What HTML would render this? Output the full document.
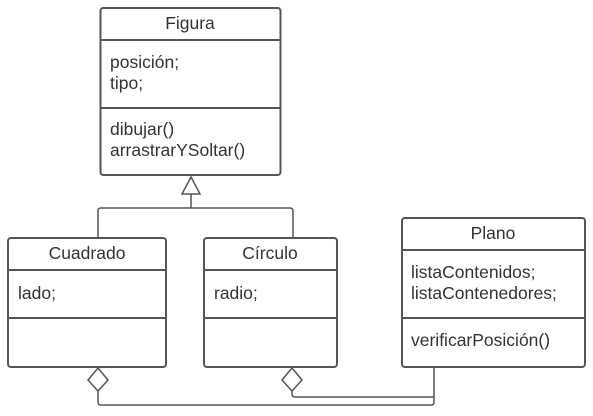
<!DOCTYPE html>
<html><head><meta charset="utf-8"><style>body{margin:0;background:#fff}svg{display:block}</style></head><body>
<svg width="593" height="416" viewBox="0 0 593 416" xmlns="http://www.w3.org/2000/svg" font-family="Liberation Sans, sans-serif" font-size="17.5" fill="#333">
<g fill="none" stroke="#555" stroke-width="2">
<rect x="100.5" y="8" width="180" height="167" rx="3"/>
<line x1="100" y1="40" x2="281" y2="40"/><line x1="100" y1="108" x2="281" y2="108"/>
<rect x="8" y="238" width="158" height="129" rx="3"/>
<line x1="8" y1="270" x2="166" y2="270"/><line x1="8" y1="318" x2="166" y2="318"/>
<rect x="204" y="238" width="133" height="129" rx="3"/>
<line x1="204" y1="270" x2="337" y2="270"/><line x1="204" y1="318" x2="337" y2="318"/>
<rect x="402" y="218" width="183" height="149" rx="3"/>
<line x1="402" y1="250" x2="585" y2="250"/><line x1="402" y1="318" x2="585" y2="318"/>
</g>
<g fill="none" stroke="#555" stroke-width="1.5">
<polygon points="191,177 200,194 182,194" fill="#fff"/>
<path d="M191 194 V208 M98 238 V211 Q98 208 101 208 H290 Q293 208 293 211 V238"/>
<polygon points="98,368 108,380 98,391 88,380" fill="#fff"/>
<polygon points="292,368 302,380 292,391 282,380" fill="#fff"/>
<path d="M98 391 V402 Q98 405 101 405 H431 Q434 405 434 402 V368"/>
<path d="M292 391 V394 Q292 397 295 397 H434"/>
</g>
<text x="190" y="29" text-anchor="middle">Figura</text>
<text x="110" y="68">posición;</text><text x="110" y="89">tipo;</text>
<text x="110" y="135">dibujar()</text><text x="110" y="156">arrastrarYSoltar()</text>
<text x="87" y="259" text-anchor="middle">Cuadrado</text>
<text x="18" y="299">lado;</text>
<text x="270" y="259" text-anchor="middle">Círculo</text>
<text x="214" y="299">radio;</text>
<text x="493" y="239" text-anchor="middle">Plano</text>
<text x="411" y="278">listaContenidos;</text><text x="411" y="299">listaContenedores;</text>
<text x="411" y="346">verificarPosición()</text>
</svg>
</body></html>
